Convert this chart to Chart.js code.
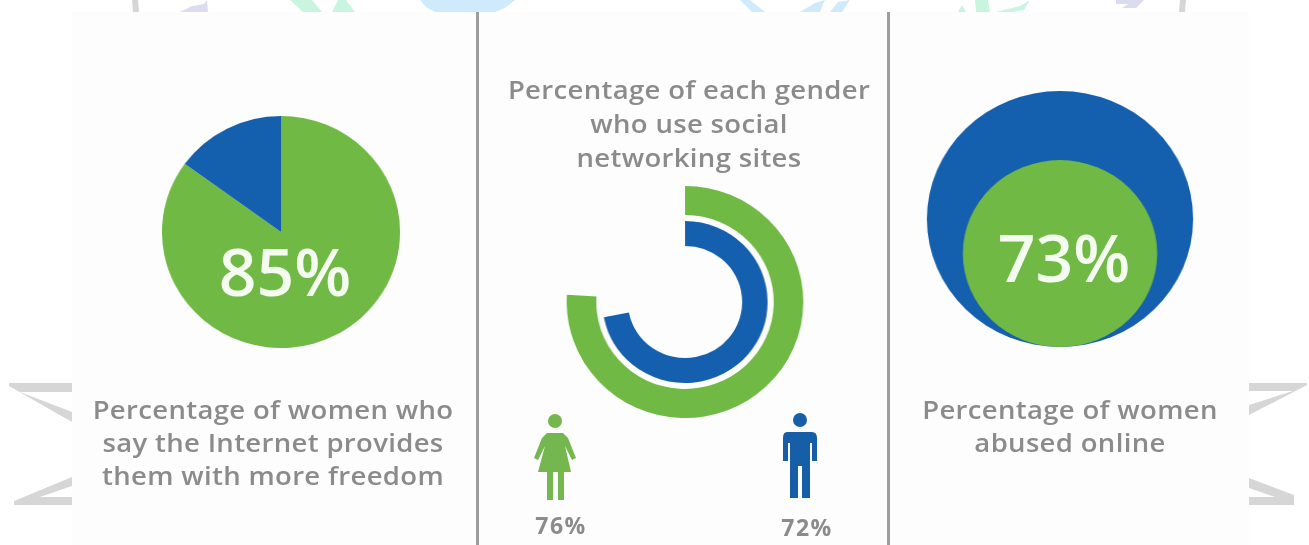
<!DOCTYPE html>
<html>
<head>
<meta charset="utf-8">
<title>Women and the internet</title>
<script src="https://cdn.jsdelivr.net/npm/chart.js@4"></script>
<style>
html, body { margin: 0; padding: 0; background: #fff; }
#page { position: relative; width: 1309px; height: 545px; overflow: hidden; background: #fff; }
#deco { position: absolute; left: 0; top: 0; }
#panel { position: absolute; left: 72px; top: 12px; width: 1177px; height: 533px; background: #fdfdfd; }
.divider { position: absolute; top: 12px; width: 3px; height: 533px; background: #9d9d9d; }
canvas { position: absolute; filter: blur(0.5px); }
#pieChart { left: 165px; top: 116px; transform: scaleX(1.026); }
#ringChart { left: 569px; top: 186px; transform: scaleX(1.02); }
#bubbleChart { left: 932px; top: 91px; transform: scaleX(1.04); }
.caption { position: absolute; text-align: center; white-space: nowrap; color: #8b8b8b;
  font-family: "Open Sans", sans-serif; font-weight: 600; filter: blur(0.6px); }
.big { position: absolute; text-align: center; color: #f4fbef; white-space: nowrap;
  font-family: "Open Sans", sans-serif; font-weight: 600; filter: blur(0.5px); }
#capPie, #capRing, #capBubble { width: 400px; font-size: 25px; letter-spacing: 0.3px; transform: scaleX(1.1); }
#capPie { left: 73px; top: 393px; line-height: 33px; }
#capRing { left: 489px; top: 72px; line-height: 34px; }
#capBubble { left: 870px; top: 393px; line-height: 33px; }
#bigPie { left: 185px; width: 200px; top: 225px; font-size: 66px; line-height: 90px; }
#bigBubble { left: 964px; width: 200px; top: 211px; font-size: 66px; line-height: 90px; }
#pctWomen { left: 511px; width: 100px; top: 510px; font-size: 23px; line-height: 30px; font-weight: 700; letter-spacing: 1.5px; }
#pctMen { left: 757px; width: 100px; top: 512px; font-size: 23px; line-height: 30px; font-weight: 700; letter-spacing: 1.5px; }
</style>
</head>
<body>
<div id="page">
  <div id="panel"></div>
  <svg id="deco" width="1309" height="545">
    <!-- logo scraps behind the picture -->
    <g fill="#d6d6d6">
      <polygon points="9,383 72,383 72,392 20,392 72,412 72,422 9,386"/>
      <polygon points="14,505 72,505 72,497 40,497 72,486 72,477 14,501"/>
      <polygon points="1249,383 1307,383 1307,385 1249,415 1249,405 1293,391 1249,391"/>
      <polygon points="1249,505 1294,505 1294,495 1249,478 1249,488 1275,497 1249,497"/>
      <polygon points="132,0 138,0 139,12 133,12"/>
      <polygon points="1180,0 1186,0 1185,12 1179,12"/>
    </g>
    <g fill="#dcdcf0">
      <polygon points="180,12 192,6 204,4 207,0 208,12"/>
      <polygon points="1116,12 1122,8 1136,8 1144,0 1116,0 1116,4 1128,4"/>
    </g>
    <g fill="#c9f5e0">
      <polygon points="290,0 312,0 322,12 303,12"/>
      <polygon points="338,0 346,0 355,12 332,12"/>
      <polygon points="958,12 962,5 966,12"/>
      <polygon points="975,0 988,0 990,12 976,12"/>
      <polygon points="996,12 1020,6 1030,0 1024,10 1012,12"/>
    </g>
    <g fill="#cfeafb">
      <polygon points="420,0 515,0 505,8 495,12 435,12 426,7"/>
      <polygon points="740,0 750,0 765,12 752,12"/>
      <polygon points="800,12 815,3 825,0 820,12"/>
      <polygon points="830,12 838,2 850,0 842,12"/>
    </g>
    <!-- woman -->
    <g fill="#74b74f" filter="url(#soft)">
      <circle cx="555" cy="421" r="7"/>
      <polygon points="547,433 563,433 568,438 576,458 572,460 565,446 571,472 564,472 564,500 558,500 558,472 553,472 553,500 547,500 547,472 538,472 545,446 538,460 534,458 542,438"/>
    </g>
    <!-- man -->
    <g fill="#155fa8" filter="url(#soft)">
      <circle cx="800" cy="420" r="7"/>
      <path d="M787 432 H812 Q817 432 817 438 V461 H812 V443 H810 V498 H802 V466 H798 V498 H790 V443 H788 V461 H783 V438 Q783 432 787 432 Z"/>
    </g>
    <defs><filter id="soft"><feGaussianBlur stdDeviation="0.6"/></filter></defs>
  </svg>
  <div class="divider" style="left:476px"></div>
  <div class="divider" style="left:887px"></div>

  <canvas id="pieChart" width="232" height="232"></canvas>
  <canvas id="ringChart" width="232" height="232"></canvas>
  <canvas id="bubbleChart" width="256" height="256"></canvas>

  <div class="big" id="bigPie"></div>
  <div class="big" id="bigBubble"></div>
  <div class="caption" id="capPie"></div>
  <div class="caption" id="capRing"></div>
  <div class="caption" id="capBubble"></div>
  <div class="caption" id="pctWomen"></div>
  <div class="caption" id="pctMen"></div>
</div>

<script>
// Data
const freedomLabels = ["More freedom", "Other"];
const freedomValues = [85, 15];

const genderLabels = ["Women", "Men"];
const socialWomen = [76, 24];
const socialMen = [72, 28];

const abusedLabels = ["All women", "Abused online"];
const abusedValues = [100, 73];

const capFreedom = ["Percentage of women who", "say the Internet provides", "them with more freedom"];
const capSocial = ["Percentage of each gender", "who use social", "networking sites"];
const capAbused = ["Percentage of women", "abused online"];

const GREEN = "#6fb944";
const BLUE = "#1560ae";

// Common options, all three are static
const baseOptions = {
    responsive: false,
    animation: false,
    events: [],
    plugins: { legend: { display: false }, tooltip: { enabled: false } }
};

// Pie
new Chart(document.querySelector("#pieChart"), {
    type: "pie",
    data: {
        labels: freedomLabels,
        datasets: [{ data: freedomValues, backgroundColor: [GREEN, BLUE], borderWidth: 0 }]
    },
    options: baseOptions
});

// Rings: the middle dataset is only the white gap between them
new Chart(document.querySelector("#ringChart"), {
    type: "doughnut",
    data: {
        labels: genderLabels,
        datasets: [
            { label: "Women", data: socialWomen, backgroundColor: [GREEN, "transparent"], borderWidth: 0, weight: 29 },
            { label: "gap", data: [], borderWidth: 0, weight: 6 },
            { label: "Men", data: socialMen, backgroundColor: [BLUE, "transparent"], borderWidth: 0, weight: 25 }
        ]
    },
    options: { ...baseOptions, cutout: 56 }
});

// Nested circles sitting on the same baseline, the size follows the value
new Chart(document.querySelector("#bubbleChart"), {
    type: "bubble",
    data: {
        labels: abusedLabels,
        datasets: [{
            data: abusedValues.map(v => ({ x: 0, y: v })),
            radius: ctx => ctx.chart.height / 200 * abusedValues[ctx.dataIndex],
            backgroundColor: [BLUE, GREEN],
            borderWidth: 0,
            clip: false
        }]
    },
    options: {
        ...baseOptions,
        layout: { autoPadding: false },  // otherwise the big radius eats the whole chart area
        scales: {
            x: { display: false, min: -1, max: 1 },
            y: { display: false, min: 0, max: 200 }
        }
    }
});

// Texts
function putLines(id, lines) {
    document.getElementById(id).innerHTML = lines.join("<br>");
}
putLines("capPie", capFreedom);
putLines("capRing", capSocial);
putLines("capBubble", capAbused);
document.getElementById("bigPie").textContent = freedomValues[0] + "%";
document.getElementById("bigBubble").textContent = abusedValues[1] + "%";
document.getElementById("pctWomen").textContent = socialWomen[0] + "%";
document.getElementById("pctMen").textContent = socialMen[0] + "%";
</script>
</body>
</html>
